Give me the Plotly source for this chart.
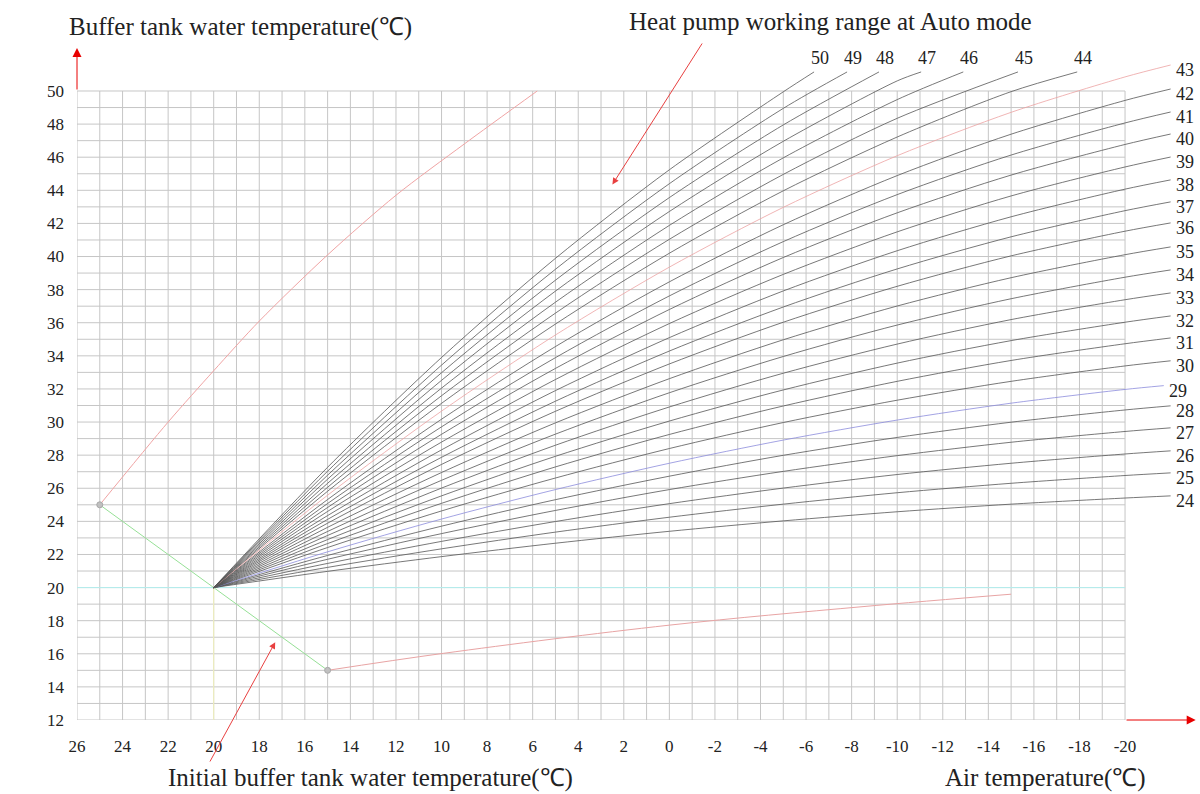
import plotly.graph_objects as go

# ---------------- data ----------------
x_tick_vals = list(range(26, -21, -2))          # air temperature ticks
y_tick_vals = list(range(12, 51, 2))            # water temperature ticks
grid_x_vals = list(range(26, -21, -1))          # vertical grid every 1 degC
grid_y_vals = list(range(12, 51))               # horizontal grid every 1 degC

# fan of curves, all starting at (20, 20)
fan_x = [20, 15, 10, 5, 0, -5, -10, -15, -20]
fan_labels = list(range(24, 51))
fan_end_x = [-22, -22, -22, -22, -22, -21.7, -22, -22, -22, -22,
             -22, -22, -22, -22, -22, -22, -22, -22, -22, -22,
             -17.9, -15.3, -12.9, -11.05, -9.2, -7.8, -6.35]
fan_y = [
    [20, 20.98, 21.87, 22.68, 23.40, 24.03, 24.58, 25.04, 25.41, 25.54],
    [20, 21.22, 22.34, 23.35, 24.25, 25.04, 25.73, 26.30, 26.77, 26.93],
    [20, 21.46, 22.79, 23.99, 25.07, 26.01, 26.83, 27.51, 28.07, 28.26],
    [20, 21.71, 23.26, 24.66, 25.92, 27.02, 27.97, 28.78, 29.43, 29.65],
    [20, 21.94, 23.71, 25.31, 26.73, 27.99, 29.07, 29.99, 30.73, 30.98],
    [20, 22.16, 24.14, 25.92, 27.51, 28.91, 30.12, 31.14, 31.97, 32.20],
    [20, 22.42, 24.63, 26.62, 28.40, 29.97, 31.32, 32.46, 33.39, 33.70],
    [20, 22.66, 25.09, 27.29, 29.25, 30.97, 32.46, 33.72, 34.73, 35.08],
    [20, 22.90, 25.54, 27.93, 30.06, 31.94, 33.56, 34.92, 36.03, 36.41],
    [20, 23.15, 26.01, 28.60, 30.91, 32.95, 34.71, 36.19, 37.39, 37.80],
    [20, 23.39, 26.48, 29.27, 31.77, 33.96, 35.86, 37.45, 38.75, 39.19],
    [20, 23.64, 26.95, 29.95, 32.62, 34.97, 37.01, 38.72, 40.11, 40.58],
    [20, 23.89, 27.44, 30.65, 33.51, 36.03, 38.20, 40.04, 41.53, 42.03],
    [20, 24.12, 27.87, 31.26, 34.29, 36.95, 39.25, 41.19, 42.77, 43.30],
    [20, 24.35, 28.32, 31.90, 35.10, 37.92, 40.35, 42.40, 44.07, 44.63],
    [20, 24.60, 28.79, 32.57, 35.95, 38.92, 41.49, 43.66, 45.41, 46.01],
    [20, 24.84, 29.26, 33.24, 36.80, 39.94, 42.64, 44.92, 46.77, 47.40],
    [20, 25.08, 29.71, 33.89, 37.62, 40.90, 43.74, 46.13, 48.07, 48.73],
    [20, 25.32, 30.17, 34.56, 38.47, 41.92, 44.89, 47.39, 49.43, 50.12],
    [20, 25.58, 30.66, 35.26, 39.36, 42.97, 46.09, 48.71, 50.85, 51.57],
    [20, 25.82, 31.13, 35.92, 40.20, 43.97, 47.22, 49.96, 51.15],
    [20, 26.06, 31.59, 36.58, 41.04, 44.96, 48.35, 51.15],
    [20, 26.30, 32.05, 37.24, 41.88, 45.96, 49.48, 51.15],
    [20, 26.55, 32.52, 37.91, 42.72, 46.96, 50.61, 51.15],
    [20, 26.79, 32.98, 38.57, 43.56, 47.95, 51.15],
    [20, 27.03, 33.44, 39.23, 44.40, 48.95, 51.15],
    [20, 27.27, 33.90, 39.89, 45.24, 49.95, 51.15],
]
fan_colors = {29: "#8c8cdc", 43: "#eca2a2"}

# upper boundary (red) from (25,25)
upper_x = [25, 22, 20, 18, 15, 12, 9, 5.8]
upper_y = [25, 30.0, 33.1, 36.1, 40.1, 43.7, 46.8, 50]
# green start line through (20,20)
green_x = [25, 20, 15]
green_y = [25, 20, 15]
# lower boundary (red) from (15,15)
lower_x = [15, 9.9, 0, -8.5, -15]
lower_y = [15, 16.03, 17.73, 18.85, 19.6]
# helper lines
cyan_x = [26, -20]
cyan_y = [20, 20]
yellow_x = [20, 20]
yellow_y = [12, 20]
point_x = [25, 15]
point_y = [25, 15]

FONT = "Liberation Serif"

fig = go.Figure()

# grid
gx, gy = [], []
for v in grid_x_vals:
    gx += [v, v, None]
    gy += [grid_y_vals[0], grid_y_vals[-1], None]
for v in grid_y_vals:
    gx += [grid_x_vals[0], grid_x_vals[-1], None]
    gy += [v, v, None]
fig.add_trace(go.Scatter(x=gx, y=gy, mode="lines",
                         line=dict(color="#c6c6c6", width=1), hoverinfo="skip"))

fig.add_trace(go.Scatter(x=cyan_x, y=cyan_y, mode="lines",
                         line=dict(color="#b4eeee", width=1)))
fig.add_trace(go.Scatter(x=yellow_x, y=yellow_y, mode="lines",
                         line=dict(color="#f2f2bc", width=1)))
fig.add_trace(go.Scatter(x=upper_x, y=upper_y, mode="lines",
                         line=dict(color="#f0a4a4", width=1, shape="spline",
                                   smoothing=0.8)))
fig.add_trace(go.Scatter(x=lower_x, y=lower_y, mode="lines",
                         line=dict(color="#e8a4a4", width=1, shape="spline")))
fig.add_trace(go.Scatter(x=green_x, y=green_y, mode="lines",
                         line=dict(color="#96e096", width=1)))

# fan curves + labels
for lab, ys, ex in zip(fan_labels, fan_y, fan_end_x):
    xs = fan_x[:len(ys) - 1] + [ex]
    col = fan_colors.get(lab, "#555555")
    fig.add_trace(go.Scatter(x=xs, y=ys, mode="lines",
                             line=dict(color=col, width=0.8, shape="spline",
                                       smoothing=0.8)))
    if lab <= 43:
        fig.add_annotation(x=ex, y=ys[-1], text=str(lab), showarrow=False,
                           xanchor="left", yanchor="middle", xshift=3, yshift=-5,
                           font=dict(family=FONT, size=18, color="#222"))
    else:
        fig.add_annotation(x=ex, y=ys[-1], text=str(lab), showarrow=False,
                           xanchor="center", yanchor="bottom", xshift=6, yshift=2,
                           font=dict(family=FONT, size=18, color="#222"))

fig.add_trace(go.Scatter(x=point_x, y=point_y, mode="markers",
                         marker=dict(color="#c0c0c0", size=6,
                                     line=dict(color="#a8a8a8", width=1))))

# axis arrows (red)
fig.add_annotation(x=26, y=52.6, ax=26, ay=50, xref="x", yref="y",
                   axref="x", ayref="y", text="", showarrow=True,
                   arrowhead=2, arrowsize=1.8, arrowwidth=1, arrowcolor="#e80000")
fig.add_annotation(x=-23.1, y=12, ax=-20, ay=12, xref="x", yref="y",
                   axref="x", ayref="y", text="", showarrow=True,
                   arrowhead=2, arrowsize=1.8, arrowwidth=1, arrowcolor="#e80000")
# pointer arrows
fig.add_annotation(x=2.5, y=44.35, ax=-1.48, ay=52.96, xref="x", yref="y",
                   axref="x", ayref="y", text="", showarrow=True,
                   arrowhead=2, arrowsize=1.3, arrowwidth=1, arrowcolor="#e84040")
fig.add_annotation(x=17.3, y=16.7, ax=20.2, ay=9.4, xref="x", yref="y",
                   axref="x", ayref="y", text="", showarrow=True,
                   arrowhead=2, arrowsize=1.3, arrowwidth=1, arrowcolor="#e84040")

# texts
tfont = dict(family=FONT, size=25, color="#222")
fig.add_annotation(text="Buffer tank water temperature(℃)", xref="paper", yref="paper",
                   x=(240 - 77) / 1123, y=(720 - 27) / 679, showarrow=False,
                   xanchor="center", yanchor="middle", font=tfont)
fig.add_annotation(text="Heat pump working range at Auto mode", xref="paper", yref="paper",
                   x=(830 - 77) / 1123, y=(720 - 21) / 679, showarrow=False,
                   xanchor="center", yanchor="middle", font=tfont)
fig.add_annotation(text="Initial buffer tank water temperature(℃)", xref="paper", yref="paper",
                   x=(370 - 77) / 1123, y=(720 - 778) / 679, showarrow=False,
                   xanchor="center", yanchor="middle", font=tfont)
fig.add_annotation(text="Air temperature(℃)", xref="paper", yref="paper",
                   x=(1045 - 77) / 1123, y=(720 - 778) / 679, showarrow=False,
                   xanchor="center", yanchor="middle", font=tfont)

fig.update_layout(
    width=1200, height=794,
    margin=dict(l=77, r=0, t=41, b=74),
    paper_bgcolor="white", plot_bgcolor="white",
    showlegend=False,
    xaxis=dict(range=[26, -23.29], showgrid=False, zeroline=False, showline=False,
               tickmode="array", tickvals=x_tick_vals,
               ticktext=[str(v) for v in x_tick_vals], ticks="",
               ticklabelstandoff=14,
               tickfont=dict(family=FONT, size=17, color="#222")),
    yaxis=dict(range=[12, 53.02], showgrid=False, zeroline=False, showline=False,
               tickmode="array", tickvals=y_tick_vals,
               ticktext=[str(v) for v in y_tick_vals], ticks="",
               ticklabelstandoff=12,
               tickfont=dict(family=FONT, size=17, color="#222")),
)

fig.write_html("out.html", config={"displayModeBar": False},
               post_script="document.body.style.margin='0';")
